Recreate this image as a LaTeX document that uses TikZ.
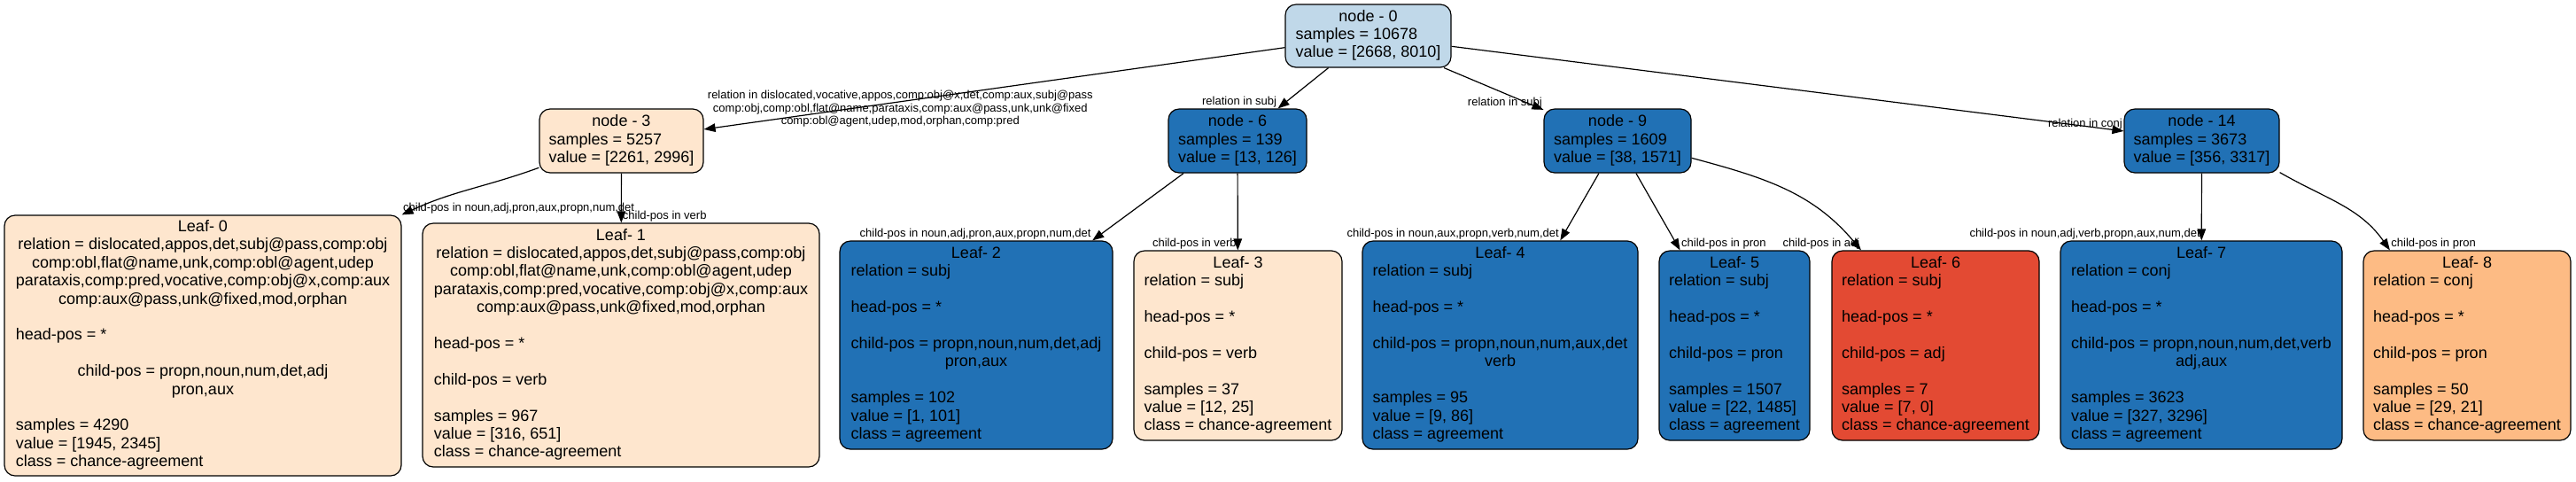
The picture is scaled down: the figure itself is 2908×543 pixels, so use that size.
\documentclass[tikz,border=0pt]{standalone}
\usepackage{fontspec}
\setmainfont{Liberation Sans}
\usetikzlibrary{arrows.meta}

\definecolor{agreeLight}{HTML}{C0D8E9}
\definecolor{agreeDark}{HTML}{2171B5}
\definecolor{chancePale}{HTML}{FEE6CE}
\definecolor{chanceMid}{HTML}{FDBB84}
\definecolor{chanceDeep}{HTML}{E34A33}

% one line of a box, centred on the box
\newcommand{\cl}[1]{\multicolumn{1}{@{}c@{}}{#1}}
\newcommand{\boxrows}[1]{\begin{tabular}{@{}l@{}}#1\end{tabular}}

\begin{document}
\begin{tikzpicture}[x=0.5pt,y=-0.5pt,
  box/.style={draw=black,line width=0.6pt,rounded corners=6pt,inner xsep=3pt,inner ysep=1pt,
    font=\fontsize{9}{10.2}\selectfont},
  edge/.style={-{Triangle[length=6.5pt,width=4.8pt]},line width=0.6pt},
  lbl/.style={font=\fontsize{6.5}{7.25}\selectfont,inner sep=0.5pt}]
  \useasboundingbox (0,0) rectangle (2908,543);

  % split nodes
  \node[box,fill=agreeLight,minimum width=93.5pt,minimum height=35.5pt] (n0) at (1544.5,40.5)
    {\boxrows{\cl{node - 0}\\ samples = 10678\\ value = [2668, 8010]}};
  \node[box,fill=chancePale,minimum width=92.5pt,minimum height=36pt] (n3) at (701.5,159)
    {\boxrows{\cl{node - 3}\\ samples = 5257\\ value = [2261, 2996]}};
  \node[box,fill=agreeDark,minimum width=78pt,minimum height=36pt] (n6) at (1397,159)
    {\boxrows{\cl{node - 6}\\ samples = 139\\ value = [13, 126]}};
  \node[box,fill=agreeDark,minimum width=83pt,minimum height=36pt] (n9) at (1826,159)
    {\boxrows{\cl{node - 9}\\ samples = 1609\\ value = [38, 1571]}};
  \node[box,fill=agreeDark,minimum width=87.5pt,minimum height=36pt] (n14) at (2485.5,159)
    {\boxrows{\cl{node - 14}\\ samples = 3673\\ value = [356, 3317]}};

  % leaves
  \node[box,fill=chancePale,minimum width=224pt,minimum height=147pt] (L0) at (229,390)
    {\boxrows{\cl{Leaf- 0}\\
      \cl{relation = dislocated,appos,det,subj@pass,comp:obj}\\
      \cl{comp:obl,flat@name,unk,comp:obl@agent,udep}\\
      \cl{parataxis,comp:pred,vocative,comp:obj@x,comp:aux}\\
      \cl{comp:aux@pass,unk@fixed,mod,orphan}\\ \\
      head-pos = *\\ \\
      \cl{child-pos = propn,noun,num,det,adj}\\
      \cl{pron,aux}\\ \\
      samples = 4290\\ value = [1945, 2345]\\ class = chance-agreement}};
  \node[box,fill=chancePale,minimum width=224pt,minimum height=137.5pt] (L1) at (701,389.5)
    {\boxrows{\cl{Leaf- 1}\\
      \cl{relation = dislocated,appos,det,subj@pass,comp:obj}\\
      \cl{comp:obl,flat@name,unk,comp:obl@agent,udep}\\
      \cl{parataxis,comp:pred,vocative,comp:obj@x,comp:aux}\\
      \cl{comp:aux@pass,unk@fixed,mod,orphan}\\ \\
      head-pos = *\\ \\
      child-pos = verb\\ \\
      samples = 967\\ value = [316, 651]\\ class = chance-agreement}};
  \node[box,fill=agreeDark,minimum width=154pt,minimum height=117.5pt] (L2) at (1102,389.5)
    {\boxrows{\cl{Leaf- 2}\\ relation = subj\\ \\ head-pos = *\\ \\
      \cl{child-pos = propn,noun,num,det,adj}\\ \cl{pron,aux}\\ \\
      samples = 102\\ value = [1, 101]\\ class = agreement}};
  \node[box,fill=chancePale,minimum width=117.5pt,minimum height=107pt] (L3) at (1397.5,390)
    {\boxrows{\cl{Leaf- 3}\\ relation = subj\\ \\ head-pos = *\\ \\ child-pos = verb\\ \\
      samples = 37\\ value = [12, 25]\\ class = chance-agreement}};
  \node[box,fill=agreeDark,minimum width=155.5pt,minimum height=117.5pt] (L4) at (1693.5,389.5)
    {\boxrows{\cl{Leaf- 4}\\ relation = subj\\ \\ head-pos = *\\ \\
      \cl{child-pos = propn,noun,num,aux,det}\\ \cl{verb}\\ \\
      samples = 95\\ value = [9, 86]\\ class = agreement}};
  \node[box,fill=agreeDark,minimum width=85pt,minimum height=107pt] (L5) at (1958,390)
    {\boxrows{\cl{Leaf- 5}\\ relation = subj\\ \\ head-pos = *\\ \\ child-pos = pron\\ \\
      samples = 1507\\ value = [22, 1485]\\ class = agreement}};
  \node[box,fill=chanceDeep,minimum width=117pt,minimum height=107pt] (L6) at (2185,390)
    {\boxrows{\cl{Leaf- 6}\\ relation = subj\\ \\ head-pos = *\\ \\ child-pos = adj\\ \\
      samples = 7\\ value = [7, 0]\\ class = chance-agreement}};
  \node[box,fill=agreeDark,minimum width=159pt,minimum height=117.5pt] (L7) at (2485,389.5)
    {\boxrows{\cl{Leaf- 7}\\ relation = conj\\ \\ head-pos = *\\ \\
      \cl{child-pos = propn,noun,num,det,verb}\\ \cl{adj,aux}\\ \\
      samples = 3623\\ value = [327, 3296]\\ class = agreement}};
  \node[box,fill=chanceMid,minimum width=117pt,minimum height=107pt] (L8) at (2785,390)
    {\boxrows{\cl{Leaf- 8}\\ relation = conj\\ \\ head-pos = *\\ \\ child-pos = pron\\ \\
      samples = 50\\ value = [29, 21]\\ class = chance-agreement}};

  % edges from the root
  \draw[edge] (n0) -- (n3) node[lbl,align=center,pos=0.662,yshift=-4pt]
    {relation in dislocated,vocative,appos,comp:obj@x,det,comp:aux,subj@pass\\
     comp:obj,comp:obl,flat@name,parataxis,comp:aux@pass,unk,unk@fixed\\
     comp:obl@agent,udep,mod,orphan,comp:pred};
  \foreach \dst/\txt in {n6/relation in subj,n9/relation in subj,n14/relation in conj}
    \draw[edge] (n0) -- (\dst) node[lbl,pos=1,anchor=south east] {\txt};

  % edges to the leaves
  \draw[edge] (n3.198) to[out=200,in=25]
    node[lbl,pos=1,anchor=south west] {child-pos in noun,adj,pron,aux,propn,num,det} (L0.north east);
  \foreach \src/\dst/\side/\txt in {n3/L1/south west/child-pos in verb,
      n6/L3/south east/child-pos in verb,
      n9/L4/south east/{child-pos in noun,aux,propn,verb,num,det},
      n9/L5/south west/child-pos in pron,
      n14/L7/south east/{child-pos in noun,adj,verb,propn,aux,num,det}}
    \draw[edge] (\src) -- (\dst) node[lbl,pos=1,anchor=\side] {\txt};
  \draw[edge] (n6.211) -- (L2.42)
    node[lbl,pos=1,anchor=south east] {child-pos in noun,adj,pron,aux,propn,num,det};
  \draw[edge] (n9.-13) to[out=-15,in=130]
    node[lbl,pos=1,anchor=south east] {child-pos in adj} (L6.128);
  \draw[edge] (n14.-22) to[out=-30,in=125]
    node[lbl,pos=1,anchor=south west] {child-pos in pron} (L8.129);
\end{tikzpicture}
\end{document}
